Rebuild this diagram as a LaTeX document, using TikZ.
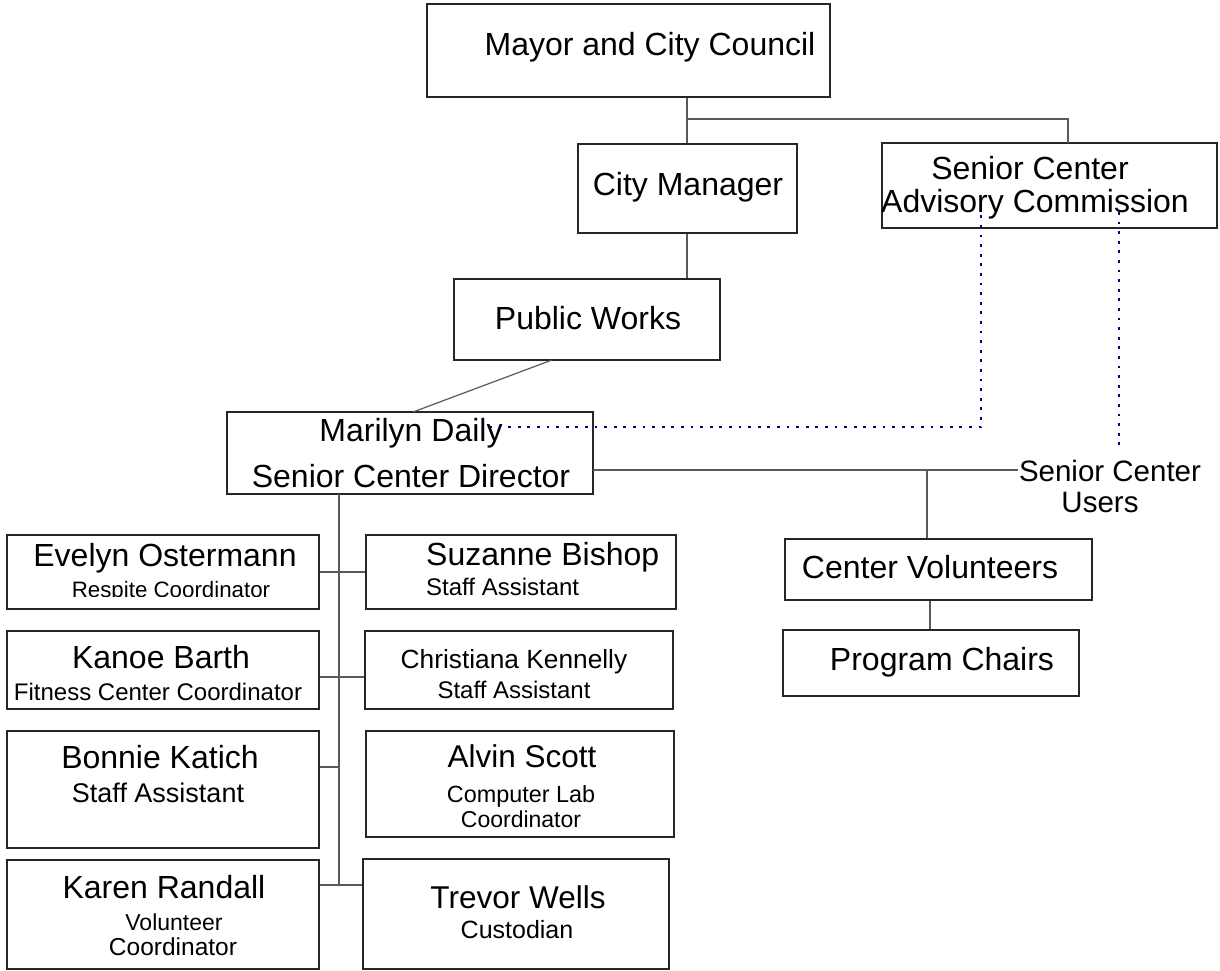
\documentclass[tikz,border=0pt]{standalone}
\usepackage{fontspec}
\setmainfont{Liberation Sans}
\usetikzlibrary{fit}
\definecolor{navy}{RGB}{0,0,128}
\newcommand\mytext[5]{\node[anchor=base, inner sep=0pt, font=\fontsize{#4}{#4}\selectfont] (#1) at (#2,#3) {#5};}
\newcommand\mybox[5]{\node[orgbox, fit={(#2,#3) (#4,#5)}] (#1) {};}
\tikzset{
  orgbox/.style={draw=black!85, line width=1.2pt, inner sep=0pt, rectangle},
  link/.style={draw=black!65, line width=1.2pt},
  dotlink/.style={draw=navy, line width=2.6pt, dash pattern=on 2.8pt off 6.8pt}
}
\begin{document}
\begin{tikzpicture}[x=1pt, y=-1pt]
\useasboundingbox[fill=white] (0,0) rectangle (1220,971);

% boxes
\mybox{mayor}{427}{4}{830}{97}
\mybox{cm}{578}{144}{797}{233}
\mybox{adv}{882}{143}{1217}{228}
\mybox{pw}{454}{279}{720}{360}
\mybox{dir}{227}{412}{593}{494}
\mybox{evelyn}{7}{535}{319}{609}
\mybox{suzanne}{366}{535}{676}{609}
\mybox{kanoe}{7}{631}{319}{709}
\mybox{christiana}{365}{631}{673}{709}
\mybox{bonnie}{7}{731}{319}{848}
\mybox{alvin}{366}{731}{674}{837}
\mybox{karen}{7}{860}{319}{969}
\mybox{trevor}{363}{859}{669}{969}
\mybox{cv}{785}{539}{1092}{600}
\mybox{pc}{783}{630}{1079}{696}

% texts
\mytext{mayorT}{650}{56}{32}{Mayor and City Council}
\mytext{cmT}{688}{195}{32}{City Manager}
\mytext{advA}{1030}{179}{32}{Senior Center}
\mytext{advB}{1035}{212}{32}{Advisory Commission}
\mytext{pwT}{588}{329}{32}{Public Works}
\mytext{dirA}{411}{441}{32}{Marilyn Daily}
\mytext{dirB}{411}{487}{32}{Senior Center Director}
\mytext{scuA}{1110}{481}{29.5}{Senior Center}
\mytext{scuB}{1100}{512}{29.5}{Users}
\mytext{cvT}{930}{578}{32}{Center Volunteers}
\mytext{pcT}{942}{670}{32}{Program Chairs}

\mytext{evA}{165}{566}{32}{Evelyn Ostermann}
\begin{scope}
\clip (7,535) rectangle (319,596);
\mytext{evB}{171}{597}{22.3}{Respite Coordinator}
\end{scope}
\node[anchor=base west, inner sep=0pt, font=\fontsize{32}{32}\selectfont] (suA) at (426,565) {Suzanne Bishop};
\node[anchor=base west, inner sep=0pt, font=\fontsize{24}{24}\selectfont] (suB) at (426,595) {Staff Assistant};
\mytext{kaA}{161}{668}{32}{Kanoe Barth}
\mytext{kaB}{158}{700}{24}{Fitness Center Coordinator}
\mytext{chA}{514}{668}{26.3}{Christiana Kennelly}
\mytext{chB}{514}{698}{24}{Staff Assistant}
\mytext{boA}{160}{768}{32}{Bonnie Katich}
\mytext{boB}{158}{802}{27}{Staff Assistant}
\mytext{alA}{522}{767}{31.5}{Alvin Scott}
\mytext{alB}{521}{802}{23.4}{Computer Lab}
\mytext{alC}{521}{827}{23}{Coordinator}
\mytext{krA}{164}{898}{32}{Karen Randall}
\mytext{krB}{174}{930}{23}{Volunteer}
\mytext{krC}{173}{955}{24.5}{Coordinator}
\mytext{trA}{518}{908}{31.5}{Trevor Wells}
\mytext{trB}{517}{938}{25}{Custodian}

% junction coordinates
\coordinate (j1) at (687,119);
\coordinate (advTop) at (1068,143);
\coordinate (pwOut) at (552,360);
\coordinate (dirIn) at (413,412);
\coordinate (dirR) at (593,470);
\coordinate (scuL) at (1018,470);
\coordinate (vj) at (927,470);
\coordinate (trunkTop) at (339,494);
\coordinate (trunkBot) at (339,885);
\coordinate (bj) at (339,767);
\coordinate (dotStart) at (489,427);
\coordinate (dotCorner) at (981,427);
\coordinate (advDotA) at (981,212);
\coordinate (advDotB) at (1119,212);
\coordinate (scuTop) at (1119,450);

% connectors
\draw[link] (mayor.south -| j1) -- (cm.north -| j1);
\draw[link] (j1) -| (advTop);
\draw[link] (cm.south -| j1) -- (pw.north -| j1);
\draw[link] (pwOut) -- (dirIn);
\draw[link] (dirR) -- (scuL);
\draw[link] (vj) -- (cv.north -| vj);
\draw[link] (cv.south -| 930,0) -- (pc.north -| 930,0);
\draw[link] (trunkTop) -- (trunkBot);
\draw[link] (evelyn.east) -- (suzanne.west);
\draw[link] (kanoe.east |- 0,677) -- (christiana.west |- 0,677);
\draw[link] (bonnie.east |- bj) -- (bj);
\draw[link] (karen.east |- trunkBot) -- (trevor.west |- trunkBot);

% dotted advisory links
\draw[dotlink] (dotStart) -- (dotCorner) -- (advDotA);
\draw[dotlink] (advDotB) -- (scuTop);
\end{tikzpicture}
\end{document}
